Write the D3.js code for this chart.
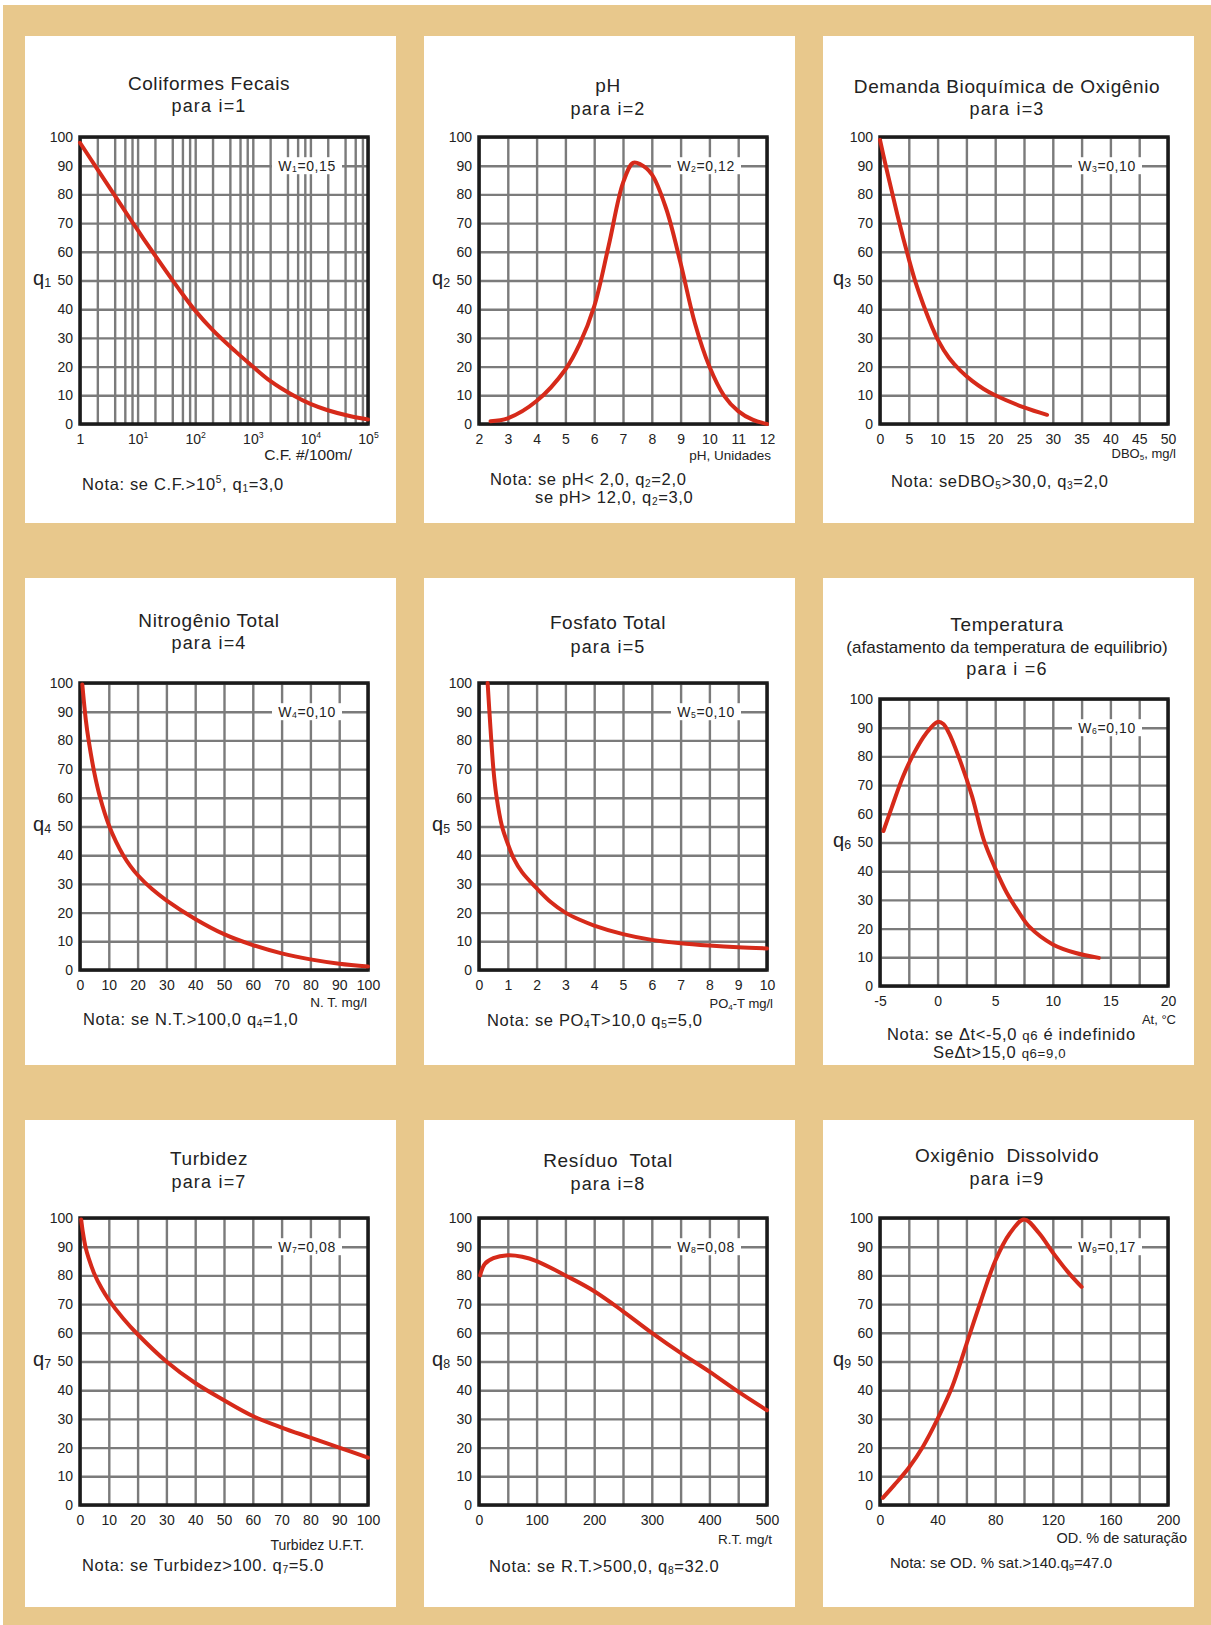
<!DOCTYPE html>
<html lang="pt">
<head>
<meta charset="UTF-8">
<title>Curvas de qualidade - IQA</title>
<style>
  body { margin: 0; background: #fff; }
  svg { display: block; font-family: "Liberation Sans", Arial, sans-serif; }
</style>
</head>
<body>
<script src="https://d3js.org/d3.v7.min.js"></script>
<script>
// ---- data ----
const qTicks = [0, 10, 20, 30, 40, 50, 60, 70, 80, 90, 100];

const cfX = [1, 2, 5, 10, 20, 50, 100, 200, 500, 1000, 2000, 5000, 10000, 20000, 50000, 100000];
const cfQ = [98, 88.8, 76.7, 67.6, 58.8, 47.5, 39.5, 32.8, 25.3, 20, 15, 10, 7, 4.8, 2.7, 1.6];
const cfTicks = [1, 10, 100, 1000, 10000, 100000];
const cfTickLabels = ['1', '10^{1}', '10^{2}', '10^{3}', '10^{4}', '10^{5}'];

const phX = [2.4, 3, 4, 5, 5.5, 6, 6.5, 7, 7.35, 7.6, 8, 8.5, 9, 9.5, 10, 10.5, 11, 11.5, 12];
const phQ = [1, 2, 8, 19, 28, 41, 62, 84, 91, 90.5, 87, 75, 56, 35, 20, 10, 4.5, 1.5, 0];
const phTicks = [2, 3, 4, 5, 6, 7, 8, 9, 10, 11, 12];

const dboX = [0, 1, 2, 3, 4, 5, 6, 7, 8, 9, 10, 12, 14, 16, 18, 20, 25, 29];
const dboQ = [99, 90, 81.5, 73, 65, 57.5, 50.5, 44.5, 39, 34, 29.5, 23, 18.5, 15, 12.2, 10, 5.8, 3.2];
const dboTicks = [0, 5, 10, 15, 20, 25, 30, 35, 40, 45, 50];

const ntX = [0.8, 2, 3, 5, 7, 10, 12.5, 15, 17.5, 20, 25, 30, 40, 50, 60, 70, 80, 90, 100];
const ntQ = [99.5, 87.3, 80, 68.6, 60, 50.5, 44.7, 40, 36.2, 33.1, 28.2, 24.3, 17.8, 12.5, 8.7, 5.8, 3.7, 2.2, 1.2];
const ntTicks = [0, 10, 20, 30, 40, 50, 60, 70, 80, 90, 100];

const ptX = [0.3, 0.4, 0.5, 0.6, 0.8, 1, 1.2, 1.5, 2, 2.5, 3, 3.5, 4, 5, 6, 7, 8, 9, 10];
const ptQ = [100, 84, 70, 61, 50, 44, 39, 34, 28.5, 23.6, 20, 17.5, 15.5, 12.5, 10.5, 9.3, 8.5, 7.9, 7.5];
const ptTicks = [0, 1, 2, 3, 4, 5, 6, 7, 8, 9, 10];

const tX = [-4.7, -4, -3, -2, -1, 0, 0.5, 1, 2, 3, 4, 5, 6, 7, 8, 10, 12, 14];
const tQ = [54, 62, 73, 81.5, 88, 92, 91.3, 88, 78, 66, 51, 41, 32.5, 26, 20.5, 14.5, 11.5, 9.8];
const tTicks = [-5, 0, 5, 10, 15, 20];

const tuX = [0.4, 1, 2, 3, 5, 7.5, 10, 15, 20, 30, 40, 50, 60, 70, 80, 90, 100];
const tuQ = [99.5, 95, 89.5, 86, 80.5, 75.5, 71.5, 65, 59.5, 50, 42.5, 36.5, 31, 27, 23.5, 20, 16.5];
const tuTicks = [0, 10, 20, 30, 40, 50, 60, 70, 80, 90, 100];

const rtX = [2, 10, 25, 50, 75, 100, 150, 200, 250, 300, 350, 400, 450, 500];
const rtQ = [80, 84, 86, 87, 86.5, 85, 80, 74.5, 67.5, 60, 53, 46.5, 39.5, 33];
const rtTicks = [0, 100, 200, 300, 400, 500];

const odX = [2, 10, 20, 30, 40, 50, 60, 70, 80, 90, 100, 110, 120, 130, 140];
const odQ = [2.5, 7, 13, 20.5, 30, 41, 56, 71, 85, 94.5, 99.5, 95, 88, 81.5, 76];
const odTicks = [0, 40, 80, 120, 160, 200];

// ---- texts ----
const titles = [
  ['Coliformes Fecais', 'para i=1'],
  ['pH', 'para i=2'],
  ['Demanda Bioquímica de Oxigênio', 'para i=3'],
  ['Nitrogênio Total', 'para i=4'],
  ['Fosfato Total', 'para i=5'],
  ['Temperatura', '(afastamento da temperatura de equilibrio)', 'para i =6'],
  ['Turbidez', 'para i=7'],
  ['Resíduo  Total', 'para i=8'],
  ['Oxigênio  Dissolvido', 'para i=9']
];
const weights = ['W_{1}=0,15', 'W_{2}=0,12', 'W_{3}=0,10', 'W_{4}=0,10', 'W_{5}=0,10',
                 'W_{6}=0,10', 'W_{7}=0,08', 'W_{8}=0,08', 'W_{9}=0,17'];
const qLabels = ['q_{1}', 'q_{2}', 'q_{3}', 'q_{4}', 'q_{5}', 'q_{6}', 'q_{7}', 'q_{8}', 'q_{9}'];
const xLabels = ['C.F. #/100m/', 'pH, Unidades', 'DBO_{5}, mg/l', 'N. T. mg/l', 'PO_{4}-T mg/l',
                 'At, °C', 'Turbidez U.F.T.', 'R.T. mg/t', 'OD. % de saturação'];
const notes = [
  ['Nota: se C.F.>10^{5}, q_{1}=3,0'],
  ['Nota: se pH< 2,0, q_{2}=2,0', 'se pH> 12,0, q_{2}=3,0'],
  ['Nota: seDBO_{5}>30,0, q_{3}=2,0'],
  ['Nota: se N.T.>100,0 q_{4}=1,0'],
  ['Nota: se PO_{4}T>10,0 q_{5}=5,0'],
  ['Nota: se \u0394t<-5,0 ~{q6} é indefinido', 'Se\u0394t>15,0 ~{q6=9,0}'],
  ['Nota: se Turbidez>100. q_{7}=5.0'],
  ['Nota: se R.T.>500,0, q_{8}=32.0'],
  ['Nota: se OD. % sat.>140.q_{9}=47.0']
];

// log grid for coliformes: lines at 2, 4, 6, 8 inside each decade
const cfGrid = [];
[1, 10, 100, 1000, 10000].forEach(d => [1, 2, 4, 6, 8].forEach(m => cfGrid.push(d * m)));
cfGrid.push(100000);

const charts = [
  { x: cfX, q: cfQ, log: true, domain: [1, 100000], grid: cfGrid, ticks: cfTicks, labels: cfTickLabels },
  { x: phX, q: phQ, domain: [2, 12], step: 1, ticks: phTicks },
  { x: dboX, q: dboQ, domain: [0, 50], step: 5, ticks: dboTicks },
  { x: ntX, q: ntQ, domain: [0, 100], step: 10, ticks: ntTicks },
  { x: ptX, q: ptQ, domain: [0, 10], step: 1, ticks: ptTicks },
  { x: tX, q: tQ, domain: [-5, 20], step: 2.5, ticks: tTicks },
  { x: tuX, q: tuQ, domain: [0, 100], step: 10, ticks: tuTicks },
  { x: rtX, q: rtQ, domain: [0, 500], step: 50, ticks: rtTicks },
  { x: odX, q: odQ, domain: [0, 200], step: 20, ticks: odTicks }
];

// ---- layout ----
const W = 1211, H = 1625;
const panelLeft = [25, 424, 823], panelTop = [36, 578, 1120];
const panelW = 371, panelH = 487;
const plotLeft = [80, 479, 880], plotTop = [137, 683, 1218];
const plotW = 288, plotH = 287;
// title baselines (from panel top), note [dx, dy, line-2 dx, size], x label [dx from right, dy from bottom, size]
const layout = [
  { title: [54, 76], note: [2, 66, 0, 16.5], xlab: [-16, 36, 15.5] },
  { title: [56, 79], note: [11, 61, 45, 16.5], xlab: [4, 36, 13.5] },
  { title: [57, 79], note: [11, 63, 0, 16.5], xlab: [8, 34, 13] },
  { title: [49, 71], note: [3, 55, 0, 16.5], xlab: [-1, 37, 13.5] },
  { title: [51, 75], note: [8, 56, 0, 16.5], xlab: [6, 38, 13] },
  { title: [53, 75, 97], note: [7, 54, 46, 16.5], xlab: [8, 38, 13], top: 699 },
  { title: [45, 68], note: [2, 66, 0, 16.5], xlab: [-4, 45, 14] },
  { title: [47, 70], note: [10, 67, 0, 16.5], xlab: [5, 39, 13.5] },
  { title: [42, 65], note: [10, 63, 0, 15], xlab: [19, 38, 14.5] }
];

const TAN = '#e8c88c', RED = '#d62a1a', GRID = '#7b7b7b', INK = '#222';

// text with ^{sup}, _{sub}, ~{small}
function rich(sel, str, size) {
  const parts = str.split(/([_^~]\{[^}]*\})/).filter(s => s.length);
  let base = 0;
  parts.forEach(p => {
    const m = p.match(/^([_^~])\{([^}]*)\}$/);
    let shift = 0, fs = null, txt = p;
    if (m) {
      txt = m[2];
      fs = size * (m[1] === '~' ? 0.8 : 0.62);
      shift = m[1] === '^' ? -0.42 * size : m[1] === '_' ? 0.12 * size : 0;
    }
    const t = sel.append('tspan').text(txt);
    if (shift - base !== 0) t.attr('dy', shift - base);
    if (fs) t.attr('font-size', fs);
    base = shift;
  });
}

const svg = d3.select('body').append('svg').attr('width', W).attr('height', H);
svg.append('rect').attr('x', 3).attr('y', 5).attr('width', W - 3).attr('height', H - 5).attr('fill', TAN);

charts.forEach((c, i) => {
  const col = i % 3, row = Math.floor(i / 3);
  const L = layout[i];
  const px = panelLeft[col], py = panelTop[row];
  const left = plotLeft[col], top = L.top || plotTop[row];
  const right = left + plotW, bottom = top + plotH;

  const g = svg.append('g');
  g.append('rect').attr('x', px).attr('y', py).attr('width', panelW).attr('height', panelH).attr('fill', '#fff');

  const x = (c.log ? d3.scaleLog() : d3.scaleLinear()).domain(c.domain).range([left, right]);
  const y = d3.scaleLinear().domain([0, 100]).range([bottom, top]);
  const grid = c.grid || d3.range(c.domain[0], c.domain[1] + c.step / 2, c.step);

  // grid
  const gx = g.append('g').attr('transform', `translate(0,${bottom})`)
    .call(d3.axisBottom(x).tickValues(grid).tickSize(-plotH).tickFormat(''));
  const gy = g.append('g').attr('transform', `translate(${left},0)`)
    .call(d3.axisLeft(y).tickValues(qTicks).tickSize(-plotW).tickFormat(''));
  [gx, gy].forEach(a => {
    a.select('.domain').remove();
    a.selectAll('line').attr('stroke', GRID).attr('stroke-width', 2.4);
  });

  // weight label on the 90 line
  const wx = left + 227, wy = y(90);
  g.append('rect').attr('x', wx - 35).attr('y', wy - 8.5).attr('width', 70).attr('height', 17).attr('fill', '#fff');
  rich(g.append('text').attr('x', wx).attr('y', wy + 5).attr('text-anchor', 'middle')
    .attr('font-size', 14).attr('letter-spacing', 0.6).attr('fill', INK), weights[i], 14);

  // frame
  g.append('rect').attr('x', left).attr('y', top).attr('width', plotW).attr('height', plotH)
    .attr('fill', 'none').attr('stroke', '#1b1b1b').attr('stroke-width', 3.5);

  // tick labels
  const ax = g.append('g').attr('transform', `translate(0,${bottom})`)
    .call(d3.axisBottom(x).tickValues(c.ticks).tickSize(0).tickPadding(10)
      .tickFormat(d => c.labels ? '' : String(d)));
  const ay = g.append('g').attr('transform', `translate(${left},0)`)
    .call(d3.axisLeft(y).tickValues(qTicks).tickSize(0).tickPadding(7));
  [ax, ay].forEach(a => {
    a.select('.domain').remove();
    a.attr('font-family', null).attr('font-size', 14);
    a.selectAll('text').attr('fill', INK);
  });
  if (c.labels) ax.selectAll('text').each(function (d, k) { rich(d3.select(this), c.labels[k], 14); });

  // curve
  const line = d3.line().x(d => x(d[0])).y(d => y(d[1])).curve(d3.curveCatmullRom.alpha(0.5));
  g.append('path').datum(c.x.map((v, k) => [v, c.q[k]])).attr('d', line)
    .attr('fill', 'none').attr('stroke', RED).attr('stroke-width', 4).attr('stroke-linecap', 'round');

  // titles
  const cx = px + 184;
  titles[i].forEach((t, k) => {
    const big = k === 0, para = t.startsWith('para');
    g.append('text').attr('x', cx).attr('y', py + L.title[k]).attr('text-anchor', 'middle')
      .attr('font-size', big ? 19 : para ? 18 : 17)
      .attr('letter-spacing', big ? 0.6 : para ? 1.2 : 0)
      .attr('fill', INK).attr('xml:space', 'preserve').text(t);
  });

  // y label
  rich(g.append('text').attr('x', left - 47).attr('y', (top + bottom) / 2 + 4)
    .attr('font-size', 20).attr('fill', INK), qLabels[i], 20);

  // x label
  rich(g.append('text').attr('x', right + L.xlab[0]).attr('y', bottom + L.xlab[1])
    .attr('text-anchor', 'end').attr('font-size', L.xlab[2]).attr('fill', INK), xLabels[i], L.xlab[2]);

  // notes
  notes[i].forEach((n, k) => {
    const fs = L.note[3];
    const t = g.append('text').attr('x', left + L.note[0] + (k ? L.note[2] : 0))
      .attr('y', bottom + L.note[1] + k * 18)
      .attr('font-size', fs).attr('letter-spacing', i === 8 ? 0 : 0.65).attr('fill', INK);
    rich(t, n, fs);
  });
});
</script>
</body>
</html>
